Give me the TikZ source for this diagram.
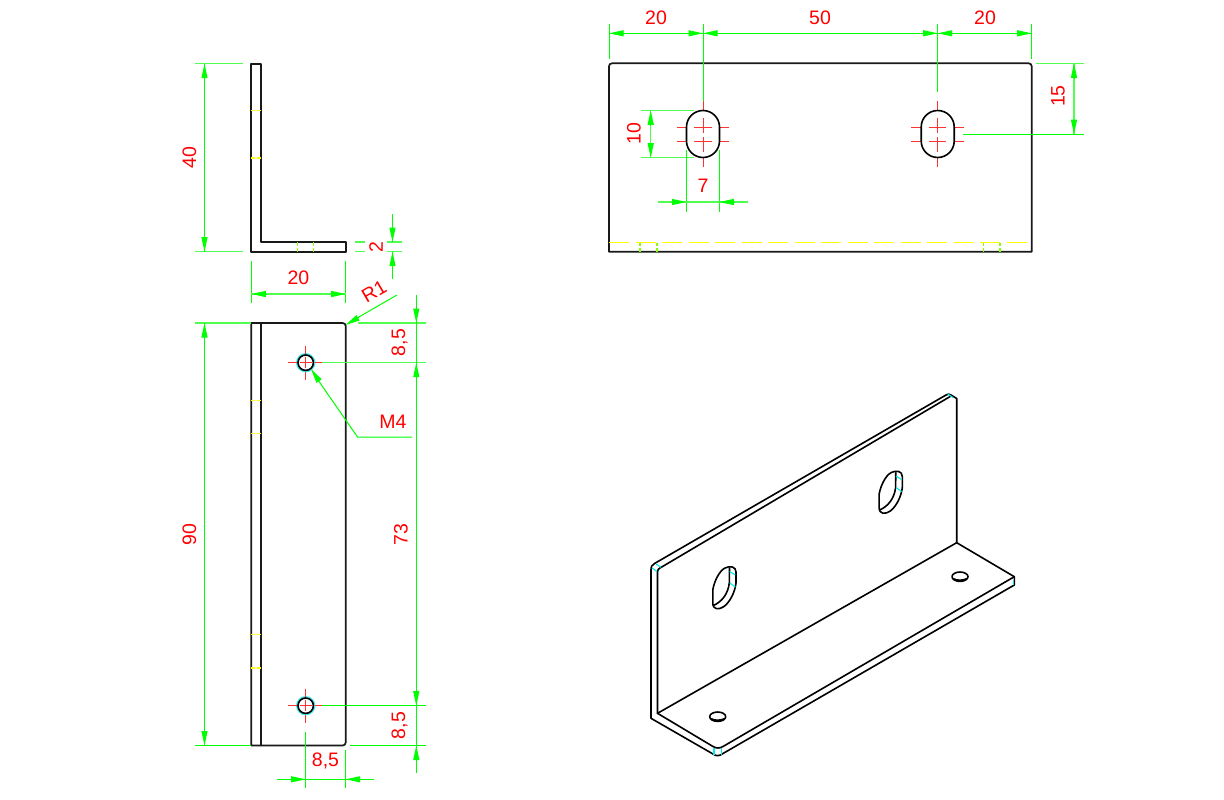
\documentclass[tikz,border=0pt]{standalone}
\usepackage{fontspec}
\setmainfont{Liberation Sans}
\usetikzlibrary{arrows.meta}
\definecolor{dimgreen}{RGB}{0,255,0}
\definecolor{extgreen}{RGB}{80,255,80}
\definecolor{cenred}{RGB}{255,50,50}
\definecolor{hidyellow}{RGB}{255,255,0}
\definecolor{mixtick}{RGB}{130,255,0}
\definecolor{tancyan}{RGB}{0,235,235}
\definecolor{halocyan}{RGB}{70,235,240}
\definecolor{partblack}{RGB}{25,25,25}
\tikzset{
  part/.style={draw=partblack,line width=1.7pt,line join=round,line cap=round},
  isop/.style={draw=black,line width=1.6pt,line join=round,line cap=round},
  dimln/.style={draw=dimgreen,line width=1pt},
  extln/.style={draw=extgreen,line width=1.4pt},
  tip/.style={-{Triangle[length=14.5pt,width=6pt,fill=dimgreen]}},
  cenln/.style={draw=cenred,line width=1pt},
  hid/.style={draw=hidyellow,line width=1.2pt},
  tanln/.style={draw=tancyan,line width=1.1pt},
  lab/.style={text=red,font=\fontsize{19.5}{19.5}\selectfont,inner sep=0pt}
}
\begin{document}
\begin{tikzpicture}[x=1pt,y=-1pt]
\useasboundingbox (0,0) rectangle (1224,800);
\fill[white] (0,0) rectangle (1224,800);

% ---------- side profile
\draw[part] (251.3,63.7) -- (261,63.7) -- (261,242) -- (345.7,242) -- (345.7,251.7) -- (251.3,251.7) -- cycle;
\foreach \y in {110.7,158} \draw[hid] (251.3,\y) -- (254.5,\y) (256.5,\y) -- (261,\y);
\foreach \x in {297.3,313.7} {\draw[mixtick,line width=1.2pt] (\x,242) -- (\x,245.5) (\x,248) -- (\x,251.7);}

% dim 40
\draw[extln] (195,63.7) -- (243,63.7) (195,251.7) -- (243,251.7);
\draw[dimln] (204.5,63.7) -- (204.5,251.7);
\draw[dimln,tip] (204.5,78.5) -- (204.5,63.7);
\draw[dimln,tip] (204.5,237) -- (204.5,251.7);
\node[lab,rotate=90] (t40) at (189.5,157.5) {40};

% dim 2
\draw[extln] (354.7,242) -- (365,242) (387,242) -- (402,242) (354.7,251.7) -- (365,251.7) (387,251.7) -- (402,251.7);
\draw[dimln] (392.5,214) -- (392.5,242) (392.5,251.7) -- (392.5,279);
\draw[dimln,tip] (392.5,227.5) -- (392.5,242);
\draw[dimln,tip] (392.5,266.5) -- (392.5,251.7);
\node[lab,rotate=90] (t2) at (376,247) {2};

% dim 20 (side)
\draw[dimln] (251.3,260.7) -- (251.3,303) (345.7,260.7) -- (345.7,303);
\draw[extln] (251.3,294) -- (345.7,294);
\draw[dimln,tip] (266,294) -- (251.3,294);
\draw[dimln,tip] (331,294) -- (345.7,294);
\node[lab] (t20a) at (298.5,278) {20};

% R1
\draw[dimln] (397,295) -- (358,317.5);
\draw[dimln,tip] (358.5,317.5) -- (345.5,325);
\node[lab,rotate=30] (tr1) at (374,291) {R1};

% ---------- plan of base
\draw[part] (251.3,323) -- (342.7,323) arc[start angle=-90,end angle=0,radius=3] -- (345.7,742.5) arc[start angle=0,end angle=90,radius=3] -- (251.3,745.5) -- cycle;
\draw[part] (261,323) -- (261,745.5);
\foreach \y in {400.3,433.3,634.7,668} \draw[hid] (251.3,\y) -- (254.5,\y) (256.5,\y) -- (261,\y);

\foreach \cy/\nm in {362.7/a,705.7/b} {
  \draw[halocyan,line width=1.6pt] (305.7,\cy) circle[radius=8.9];
  \draw[isop] (305.7,\cy) circle[radius=7.7];
  \draw[cenln] (288,\cy) -- (297,\cy) (300,\cy) -- (311.5,\cy) (314.5,\cy) -- (322,\cy);
  \draw[cenln] (305.7,\cy-17) -- (305.7,\cy-9) (305.7,\cy-5.5) -- (305.7,\cy+5.5) (305.7,\cy+9) -- (305.7,\cy+17);
}

% dim 90
\draw[extln] (195,323) -- (251.3,323);
\draw[dimln] (195,745.5) -- (251.3,745.5);
\draw[dimln] (204.5,323) -- (204.5,745.5);
\draw[dimln,tip] (204.5,337.5) -- (204.5,323);
\draw[dimln,tip] (204.5,731) -- (204.5,745.5);
\node[lab,rotate=90] (t90) at (189.5,534.5) {90};

% dims 8,5 / 73 / 8,5
\draw[extln] (358,323) -- (426,323) (322,362.7) -- (426,362.7);
\draw[dimln] (322,705.7) -- (426,705.7) (350,745.5) -- (426,745.5);
\draw[dimln] (416.3,295) -- (416.3,773);
\draw[dimln,tip] (416.3,308.5) -- (416.3,323);
\draw[dimln,tip] (416.3,377.5) -- (416.3,362.7);
\draw[dimln,tip] (416.3,691) -- (416.3,705.7);
\draw[dimln,tip] (416.3,760) -- (416.3,745.5);
\node[lab,rotate=90] (t85a) at (399.5,342.5) {8,5};
\node[lab,rotate=90] (t73) at (401,534.5) {73};
\node[lab,rotate=90] (t85b) at (399.5,725.5) {8,5};

% M4
\draw[dimln] (412,437) -- (357.5,437) -- (318,380);
\draw[dimln,tip] (319,381) -- (311,369);
\node[lab] (tm4) at (393,422) {M4};

% dim 8,5 bottom
\draw[dimln] (305.7,731.7) -- (305.7,788) (345.7,750) -- (345.7,788);
\draw[dimln] (277,779.3) -- (374,779.3);
\draw[dimln,tip] (291,779.3) -- (305.7,779.3);
\draw[dimln,tip] (360.5,779.3) -- (345.7,779.3);
\node[lab] (t85c) at (325.5,761) {8,5};

% ---------- front view
\draw[part] (609,251.7) -- (609,66.3) arc[start angle=180,end angle=270,radius=3] -- (1028.7,63.3) arc[start angle=270,end angle=360,radius=3] -- (1031.7,251.7) -- cycle;
\draw[hid,dash pattern=on 20pt off 6.5pt] (609,242.3) -- (1031.7,242.3);
\foreach \x in {640,657,983.3,1000} {\draw[mixtick,line width=1.2pt] (\x,242.5) -- (\x,246) (\x,248) -- (\x,251.7);}

\foreach \cx in {703,937.7} {
  \foreach \cy in {127.3,141.3} {
    \draw[cenln] (\cx-26.3,\cy) -- (\cx-17,\cy) (\cx-9,\cy) -- (\cx+8.7,\cy) (\cx+17,\cy) -- (\cx+26.3,\cy);
  }
  \draw[cenln] (\cx,101) -- (\cx,110) (\cx,118) -- (\cx,133) (\cx,136.7) -- (\cx,151.7) (\cx,158) -- (\cx,167);
  \draw[isop] (\cx-16.5,127) arc[start angle=180,end angle=360,radius=16.5] -- (\cx+16.5,141) arc[start angle=0,end angle=180,radius=16.5] -- cycle;
}

% dims top
\draw[dimln] (609,24) -- (609,59) (703,24) -- (703,100.5) (937.7,24) -- (937.7,91.7) (1031.7,24) -- (1031.7,59);
\draw[dimln] (609,33.3) -- (1031.7,33.3);
\draw[dimln,tip] (623.5,33.3) -- (609,33.3);
\draw[dimln,tip] (688.5,33.3) -- (703,33.3);
\draw[dimln,tip] (717.5,33.3) -- (703,33.3);
\draw[dimln,tip] (923,33.3) -- (937.7,33.3);
\draw[dimln,tip] (952,33.3) -- (937.7,33.3);
\draw[dimln,tip] (1017,33.3) -- (1031.7,33.3);
\node[lab] (t20b) at (656,18) {20};
\node[lab] (t50) at (820,18) {50};
\node[lab] (t20c) at (985,18) {20};

% dim 15
\draw[extln] (1036,63.3) -- (1084,63.3);
\draw[dimln] (963.3,134) -- (1084,134);
\draw[extln] (1074,63.3) -- (1074,134);
\draw[dimln,tip] (1074,78) -- (1074,63.3);
\draw[dimln,tip] (1074,119.5) -- (1074,134);
\node[lab,rotate=90] (t15) at (1058,96) {15};

% dim 10
\draw[extln] (641,110.3) -- (694,110.3) (641,157.7) -- (694,157.7);
\draw[extln] (650.7,110.3) -- (650.7,157.7);
\draw[dimln,tip] (650.7,125) -- (650.7,110.3);
\draw[dimln,tip] (650.7,143) -- (650.7,157.7);
\node[lab,rotate=90] (t10) at (634,133.5) {10};

% dim 7
\draw[dimln] (686.5,150) -- (686.5,211.7) (719.3,150) -- (719.3,211.7);
\draw[extln] (658,202) -- (747.7,202);
\draw[dimln,tip] (672,202) -- (686.5,202);
\draw[dimln,tip] (734,202) -- (719.3,202);
\node[lab] (t7) at (703,186) {7};

% ---------- isometric view
\draw[isop] (651,718.3) -- (651,570) .. controls (651,566.5) and (652,565) .. (654.5,563.5) -- (946,395) .. controls (948,393.8) and (949.5,393.8) .. (951,395) -- (956.7,398.5) -- (956.7,542.7) -- (1014.3,576.7) -- (1014.3,585) -- (723,753.5) .. controls (719.5,756) and (716.5,756.5) .. (713,754) -- cycle;
\draw[isop] (951,396) -- (660,568) .. controls (658.3,569) and (657.5,570) .. (657.5,572) -- (657.5,713.3);
\draw[isop] (657.5,713.3) -- (956.7,542.7);
\draw[isop] (657.5,713.3) -- (713,746.5) .. controls (716.5,748.5) and (719.5,748.5) .. (723,746.5) -- (1014.3,576.7);
% cyan tangents
\draw[tanln] (652,568) -- (657,571.5) (656,564) -- (661,567.3);
\draw[tanln] (947.7,394) -- (953,397.5);
\draw[tanln] (714,747.5) -- (714,755) (721.3,747.5) -- (721.3,755);
\draw[tanln] (1013.6,581) -- (1013.6,585);

\foreach \dx/\dy in {0/0,166.3/-95.5} {
 \begin{scope}[shift={(\dx,\dy)}]
  \draw[isop] (712.8,590) .. controls (714,582) and (719,571) .. (725,568) .. controls (730,565.5) and (736,566.5) .. (736,572) -- (736,583) .. controls (735,592) and (730,602) .. (724,606.5) .. controls (719,610) and (712.8,610) .. (712.8,603) -- cycle;
  \draw[isop] (729.5,568) -- (729.3,583) .. controls (728,594) and (722,601.5) .. (713.5,605.5);
  \draw[tanln] (729.6,571.5) -- (735.3,575) (729.8,583) -- (735.3,587);
 \end{scope}
}
\foreach \dx/\dy in {0/0,242.3/-140} {
 \begin{scope}[shift={(\dx,\dy)}]
  \draw[isop] (717.7,716.7) ellipse[x radius=8,y radius=4.7];
  \draw[isop,line width=1.9pt] (711.5,719) .. controls (714,720.8) and (721,720.8) .. (724,719);
 \end{scope}
}
\end{tikzpicture}
\end{document}
